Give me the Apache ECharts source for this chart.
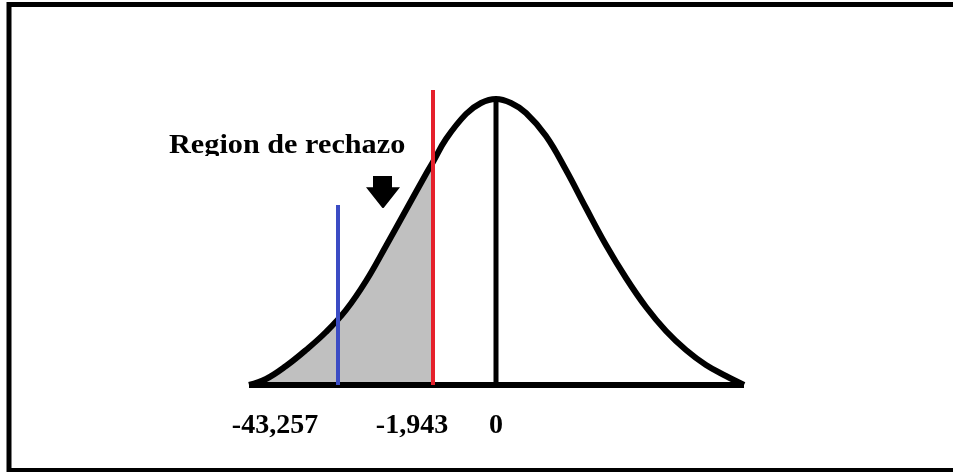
<!DOCTYPE html>
<html>
<head>
<meta charset="utf-8">
<script src="https://cdn.jsdelivr.net/npm/echarts@6/dist/echarts.min.js"></script>
<style>
  html, body { margin: 0; padding: 0; background: #fff; }
  #chart { width: 953px; height: 472px; }
</style>
</head>
<body>
<div id="chart"></div>
<script>
// curva (x relativo al centro, altura sobre la base)
const curveX = [-247, -230, -210, -190, -170, -150, -130, -110, -90, -70, -63, -50, -30, -15, 0,
  15, 30, 50, 70, 90, 110, 130, 150, 170, 190, 210, 230, 248]
const curveY = [0, 6, 19, 35, 53, 75, 104, 139, 175, 211, 223, 246, 271, 282, 286,
  282, 272, 249, 215, 177, 140, 107, 78, 54, 35, 20, 9, 0]

// lineas verticales
const criticalX = -63      // rojo
const criticalTop = 295
const statX = -158         // azul
const statTop = 180
const meanTop = 286        // negro

// etiquetas del eje
const tickLabels = ['-43,257', '-1,943', '0']
const tickX = [-221, -84, 0]
const tickY = -41

const regionLabel = 'Region de rechazo'
const arrowPos = [-113, 193]

const curveData = curveX.map((x, i) => [x, curveY[i]])
const shadeData = curveData.filter(p => p[0] <= criticalX)

const chart = echarts.init(document.getElementById('chart'))

chart.setOption({
  animation: false,
  grid: { left: 0, right: 0, top: 0, bottom: 0 },
  xAxis: { type: 'value', min: -496, max: 457, show: false },
  yAxis: { type: 'value', min: -87, max: 385, show: false },
  graphic: [
    {
      type: 'polyline',
      shape: { points: [[953, 4.5], [9, 4.5], [9, 470.5], [953, 470.5]] },
      style: { stroke: '#000', lineWidth: 5, fill: null },
      z: 100
    },
    {
      type: 'text',
      x: 169,
      y: 146,
      scaleX: 1.08,
      style: {
        text: regionLabel,
        font: 'bold 28px "Liberation Serif"',
        fill: '#000',
        verticalAlign: 'middle'
      },
      z: 100
    },
    {
      type: 'rect',
      shape: { x: 165, y: 156, width: 240, height: 12 },
      style: { fill: '#fff' },
      z: 101
    }
  ],
  series: [
    {
      type: 'line',
      data: shadeData,
      smooth: 0.4,
      symbol: 'none',
      lineStyle: { width: 0 },
      areaStyle: { color: '#c0c0c0', opacity: 1 },
      z: 1
    },
    {
      type: 'line',
      data: curveData,
      smooth: 0.4,
      symbol: 'none',
      lineStyle: { color: '#000', width: 6, join: 'round' },
      z: 2
    },
    {
      type: 'line',
      data: [[curveX[0], 0], [curveX[curveX.length - 1], 0]],
      symbol: 'none',
      lineStyle: { color: '#000', width: 6 },
      z: 3
    },
    {
      type: 'line',
      data: [[statX, 0], [statX, statTop]],
      symbol: 'none',
      lineStyle: { color: '#3b4cc4', width: 4 },
      z: 4
    },
    {
      type: 'line',
      data: [[criticalX, 0], [criticalX, criticalTop]],
      symbol: 'none',
      lineStyle: { color: '#e5202b', width: 4 },
      z: 4
    },
    {
      type: 'line',
      data: [[0, 0], [0, meanTop]],
      symbol: 'none',
      lineStyle: { color: '#000', width: 5 },
      z: 5
    },
    {
      type: 'scatter',
      data: [arrowPos],
      symbol: 'path://M7,0 L26,0 L26,11 L34,11 L18,31 Q17,32 16,31 L0,11 L7,11 Z',
      symbolSize: [34, 32],
      itemStyle: { color: '#000', opacity: 1 },
      silent: true,
      z: 6
    },
    {
      type: 'scatter',
      data: tickLabels.map((t, i) => ({ value: [tickX[i], tickY], name: t })),
      symbolSize: 0,
      itemStyle: { opacity: 1 },
      label: {
        show: true,
        position: 'inside',
        formatter: p => p.name,
        color: '#000',
        opacity: 1,
        textBorderWidth: 0,
        fontFamily: 'Liberation Serif',
        fontWeight: 'bold',
        fontSize: 28
      },
      silent: true,
      z: 6
    }
  ]
})
</script>
</body>
</html>
